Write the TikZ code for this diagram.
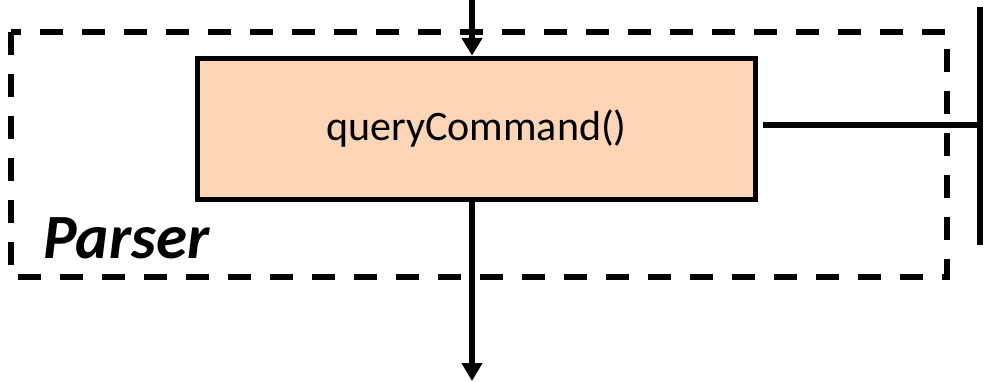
\documentclass[tikz,border=0pt]{standalone}
\usepackage{fontspec}
\setmainfont{Carlito}
\usetikzlibrary{arrows.meta}
\definecolor{boxfill}{RGB}{251,213,181}
\begin{document}
\begin{tikzpicture}[x=1pt,y=-1pt,
  thick line/.style={line width=6pt},
  arr/.style={thick line,-{Triangle[width=20pt,length=18pt]}},
  funcbox/.style={draw,line width=5.5pt,fill=boxfill,minimum width=558pt,minimum height=141pt,inner sep=0pt,font=\fontsize{42}{46}\selectfont},
  dashbox/.style={draw,line width=5.5pt,dash pattern=on 23pt off 19pt}]
\useasboundingbox (0,0) rectangle (984,381);
\draw[dashbox] (11,32) rectangle (947,277);
\node[funcbox] (qc) at (476.5,129) {queryCommand()};
\node[anchor=base west,inner sep=0pt,font=\fontsize{63}{66}\selectfont\bfseries\itshape] (parser) at (43,258) {Parser};
\coordinate (topin) at (472,0);
\coordinate (botout) at (472,381);
\coordinate (vtop) at (980,7);
\coordinate (vbot) at (980,245);
\coordinate (hjoin) at (980,125);
\draw[arr] (topin) -- (topin |- qc.north);
\draw[arr] (botout |- qc.south) -- (botout);
\draw[thick line] (qc.east |- hjoin) ++(5,0) -- (hjoin);
\draw[thick line] (vtop) -- (vbot);
\end{tikzpicture}
\end{document}
